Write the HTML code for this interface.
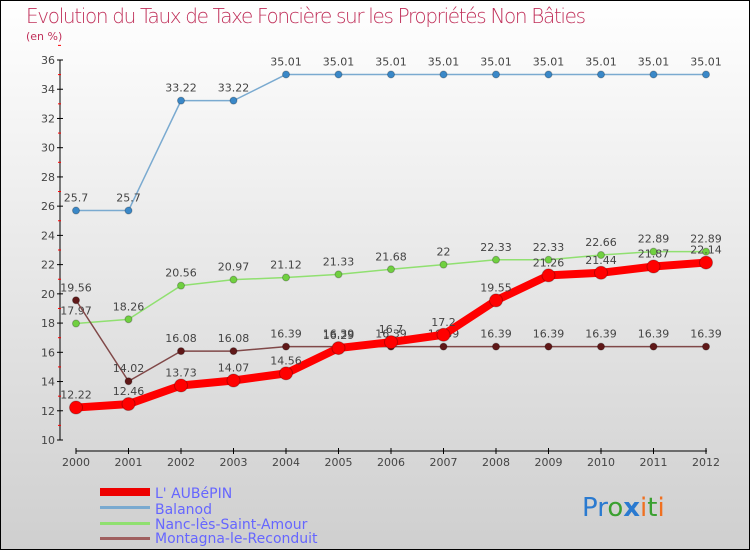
<!DOCTYPE html>
<html><head><meta charset="utf-8"><style>
html,body{margin:0;padding:0}
body{width:750px;height:550px;overflow:hidden;font-family:"DejaVu Sans","Liberation Sans",sans-serif}
svg text{font-family:"DejaVu Sans","Liberation Sans",sans-serif}
</style></head><body>
<svg id="c" width="750" height="550">
<defs><linearGradient id="bg" x1="0" y1="0" x2="0" y2="1"><stop offset="0" stop-color="#ffffff"/><stop offset="1" stop-color="#cfcfcf"/></linearGradient></defs>
<rect x="0.5" y="0.5" width="749" height="549" fill="url(#bg)" stroke="#000"/>
<text x="26" y="23" font-size="20" fill="#c0305a" style="font-weight:200" textLength="560">Evolution du Taux de Taxe Foncière sur les Propriétés Non Bâties</text>
<text x="26" y="40" font-size="11" fill="#c0305a">(en %)</text>
<g id="axes"></g><g id="series"></g>
<g>
<rect x="100" y="488" width="50" height="8" fill="#e00"/>
<text x="155" y="498" font-size="14" fill="#6666ff">L' AUBéPIN</text>
<rect x="100" y="506" width="50" height="3" fill="#7aaad0"/>
<text x="155" y="514" font-size="14" fill="#6666ff">Balanod</text>
<rect x="100" y="522" width="50" height="3" fill="#90e070"/>
<text x="155" y="529" font-size="14" fill="#6666ff">Nanc-lès-Saint-Amour</text>
<rect x="100" y="537" width="50" height="3" fill="#a06060"/>
<text x="155" y="543" font-size="14" fill="#6666ff">Montagna-le-Reconduit</text>
</g>
<text x="582" y="516" font-size="26" font-family="Liberation Sans"><tspan fill="#2a7ad0">Pr</tspan><tspan fill="#3aa030">o</tspan><tspan fill="#2a7ad0" font-weight="bold">x</tspan><tspan fill="#f07020">i</tspan><tspan fill="#3aa030">t</tspan><tspan fill="#f07020">i</tspan></text>
</svg>
<script>
const years=[2000,2001,2002,2003,2004,2005,2006,2007,2008,2009,2010,2011,2012];
const yTicks=[10,12,14,16,18,20,22,24,26,28,30,32,34,36];
const aubepin=[12.22,12.46,13.73,14.07,14.56,16.29,16.7,17.2,19.55,21.26,21.44,21.87,22.14];
const balanod=[25.7,25.7,33.22,33.22,35.01,35.01,35.01,35.01,35.01,35.01,35.01,35.01,35.01];
const nanc=[17.97,18.26,20.56,20.97,21.12,21.33,21.68,22,22.33,22.33,22.66,22.89,22.89];
const montagna=[19.56,14.02,16.08,16.08,16.39,16.39,16.39,16.39,16.39,16.39,16.39,16.39,16.39];
const NS='http://www.w3.org/2000/svg';
const X=i=>76+i*52.5, Y=v=>440-(v-10)*380/26;
function el(t,a,p){const e=document.createElementNS(NS,t);for(const k in a)e.setAttribute(k,a[k]);p.appendChild(e);return e;}
const ax=document.getElementById('axes'),sg=document.getElementById('series');
let l=el('line',{x1:60,y1:60,x2:60,y2:440,stroke:'#000'},ax);


yTicks.forEach(v=>{el('line',{x1:57,x2:63,y1:Y(v),y2:Y(v),stroke:'#000'},ax);
 el('line',{x1:58,x2:61,y1:Y(v+1),y2:Y(v+1),stroke:'#f00'},ax);
 const t=el('text',{x:55,y:Y(v)+4,'font-size':11,fill:'#444','text-anchor':'end'},ax);t.textContent=v;
 
 });
l=el('line',{x1:76,y1:451,x2:707,y2:451,stroke:'#000'},ax);


years.forEach((y,i)=>{el('line',{x1:X(i),x2:X(i),y1:448,y2:454,stroke:'#000'},ax);
 const t=el('text',{x:X(i),y:466,'font-size':11,fill:'#444','text-anchor':'middle'},ax);t.textContent=y;
 
 });
function series(d,name,col,w,r,dot){
 const g=el('g',{},sg);
 
 
 el('polyline',{points:d.map((v,i)=>X(i)+','+Y(v)).join(' '),fill:'none',stroke:col,'stroke-width':w,'stroke-linejoin':'round'},g);
 d.forEach((v,i)=>{const c=el('circle',{cx:X(i),cy:Y(v),r:r,fill:dot,stroke:'rgba(0,0,0,0.25)'},g);
  
  
  const t=el('text',{x:X(i),y:Y(v)-9,'font-size':11,fill:'#444','text-anchor':'middle'},g);t.textContent=v;
  
  });
}
series(balanod,'balanod','#7aaad0',1.5,3.5,'#3a88c8');
series(nanc,'nanc','#90e070',1.5,3.5,'#70d040');
series(montagna,'montagna','#804848',1.5,3.5,'#601818');
series(aubepin,'aubepin','#f00',8,6.5,'#f00');
</script>
</body></html>
